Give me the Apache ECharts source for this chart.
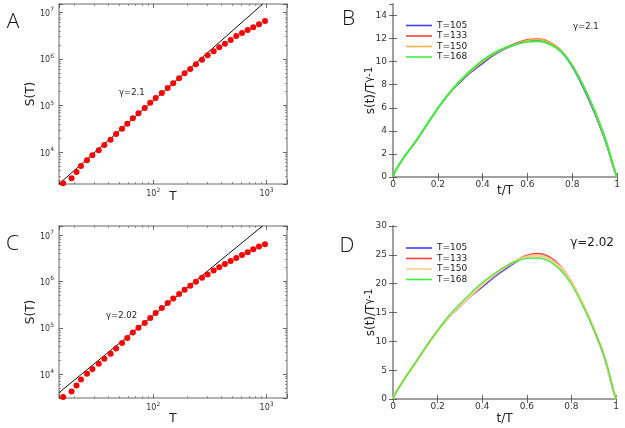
<!DOCTYPE html>
<html><head><meta charset="utf-8">
<script src="https://cdn.jsdelivr.net/npm/echarts@6/dist/echarts.min.js"></script>
<style>html,body{margin:0;padding:0;background:#fff}#c{width:625px;height:428px}</style>
</head><body><div id="c"></div>
<script>
// ---- data ----
const sizesT = [16,19,21,23,26,29,33,37,42,47,53,59,66,74,84,94,105,119,134,150,169,189,212,238,269,302,341,382,429,482,540,607,681,763,857,968];
const avalancheA = [2140,2740,3740,5030,6670,8540,10900,14200,18500,24500,31800,40700,53100,68000,88400,114800,144800,185400,237500,299300,383700,491100,607100,765800,961000,1194000,1455000,1774000,2120000,2545000,3101000,3594000,4170000,4765000,5525000,6500000];
const avalancheC = [3200,4230,5690,7660,10150,12810,16660,21340,27330,35560,47130,60370,78520,100500,126800,162500,208000,266500,341300,426600,533300,659300,803500,979400,1194000,1414000,1725000,2032000,2389000,2773000,3219000,3736000,4267000,4953000,5662000,6342000];
const fitA_T = [14.7, 924];
const fitA_S = [2065, 15070000];
const fitC_T = [14.7, 920];
const fitC_S = [3963, 15700000];

const tGrid = [0,0.01,0.05,0.1,0.15,0.2,0.25,0.3,0.35,0.4,0.45,0.5,0.55,0.6,0.65,0.7,0.75,0.8,0.85,0.9,0.95,0.99,1];
const B105 = [0,0.5,1.75,3.05,4.5,5.95,7.2,8.2,9.1,9.85,10.55,11.1,11.5,11.78,11.85,11.55,10.85,9.55,7.7,5.5,2.95,0.45,0];
const B133 = [0,0.5,1.75,3.05,4.5,5.95,7.2,8.3,9.2,10.0,10.65,11.2,11.6,11.9,11.97,11.7,11.0,9.7,7.9,5.7,3.1,0.5,0];
const B150 = [0,0.5,1.75,3.05,4.5,5.95,7.2,8.3,9.2,10.0,10.65,11.15,11.55,11.85,11.92,11.65,10.95,9.65,7.85,5.65,3.05,0.5,0];
const B168 = [0,0.5,1.75,3.05,4.5,5.95,7.25,8.35,9.3,10.1,10.75,11.2,11.5,11.72,11.76,11.5,10.9,9.65,7.9,5.75,3.2,0.55,0];
const D105 = [0,0.9,3.4,6.2,9.1,11.8,14.1,16.0,17.8,19.4,21.0,22.4,23.7,24.75,25.15,24.6,23.0,20.2,16.4,12.0,6.8,1.0,0];
const D133 = [0,0.9,3.4,6.2,9.1,11.8,14.2,16.2,18.0,19.7,21.3,22.7,23.95,24.95,25.25,24.7,23.1,20.4,16.6,12.2,7.0,1.1,0];
const D150 = [0,0.9,3.4,6.2,9.1,11.8,14.2,16.2,18.0,19.8,21.4,22.8,23.9,24.65,24.9,24.35,22.85,20.2,16.6,12.3,7.1,1.2,0];
const D168 = [0,0.9,3.4,6.3,9.2,11.9,14.4,16.5,18.4,20.2,21.6,22.9,23.85,24.4,24.45,23.9,22.4,19.9,16.3,12.1,7.1,1.3,0];

const legendNames = ['T=105','T=133','T=150','T=168'];
const lineColors = ['#3d3dff','#ff3b3b','#ffb347','#3df03d'];
const yTicksB = [0,15,2];
const yTicksD = [0,30,5];
const xDecadesLog = [1, 2, 3];          // decades spanned by the T axes
const yDecadesLog = [3, 4, 5, 6, 7];    // decades spanned by the S(T) axes

// ---- helpers ----
const chart = echarts.init(document.getElementById('c'));
const FONT = 'DejaVu Sans';
const frameColor = '#9a9a9a';
const zip = (a, b) => a.map((v, i) => [v, b[i]]);
const minorLogTicks = (decades, lo, hi) => {
  const out = [];
  decades.forEach(d => { for (let m = 2; m <= 9; m++) { const v = m * Math.pow(10, d); if (v > lo && v < hi) out.push(v); } });
  return out;
};

function logLabel(v) {
  const e = Math.log10(v), r = Math.round(e);
  return Math.abs(e - r) < 1e-6 ? '{b|10}{s|' + r + '}' : '';
}
const logRich = {
  b: {fontSize: 8, fontFamily: FONT, color: '#333', verticalAlign: 'bottom'},
  s: {fontSize: 6, fontFamily: FONT, color: '#333', verticalAlign: 'top', padding: [0, 0, 5, 0]}
};

function axisSet(kind, gridIndex, type, min, max, opts) {
  const base = {
    gridIndex, type, min, max,
    axisLine: {show: true, lineStyle: {color: frameColor, width: 1.5}},
    axisTick: {show: true, inside: true, length: 4, lineStyle: {color: '#444', width: 0.8}},
    splitLine: {show: false}
  };
  if (type === 'log') base.logBase = 10;
  if (opts.interval) base.interval = opts.interval;
  const main = Object.assign({}, base, {
    position: kind === 'x' ? 'bottom' : 'left',
    axisLabel: opts.label,
    name: opts.name, nameLocation: 'middle', nameGap: opts.nameGap,
    nameMoveOverlap: false,
    nameRotate: kind === 'y' ? 90 : 0,
    nameTextStyle: opts.nameStyle
  });
  const mirror = Object.assign({}, base, {
    position: kind === 'x' ? 'top' : 'right',
    axisLabel: {show: false}
  });
  const out = [main, mirror];
  if (opts.minor) {
    [kind === 'x' ? 'bottom' : 'left', kind === 'x' ? 'top' : 'right'].forEach(pos => {
      out.push(Object.assign({}, base, {
        position: pos,
        axisLine: {show: false},
        axisLabel: {show: false},
        axisTick: {show: true, inside: true, length: 2, customValues: opts.minor, lineStyle: {color: '#555', width: 0.6}}
      }));
    });
  }
  return out;
}

const grids = [
  {left: 59, top: 4, width: 228, height: 180},
  {left: 393, top: 4, width: 224, height: 173},
  {left: 59, top: 226, width: 228, height: 172},
  {left: 393, top: 226, width: 223, height: 173}
].map(g => Object.assign(g, {outerBoundsMode: 'none', containLabel: false}));

const nameStyle = {fontFamily: FONT, fontSize: 12, color: '#222'};
const linTick = {fontFamily: FONT, fontSize: 9, color: '#333'};
const supName = Object.assign({rich: {s: {fontFamily: FONT, fontSize: 10, color: '#222', padding: [0, 0, 3, 0]}}}, nameStyle);

const xAxes = [], yAxes = [];
const idx = {};
function add(key, xs, ys) { idx[key] = [xAxes.length, yAxes.length]; xAxes.push(...xs); yAxes.push(...ys); }
// A
add('A',
  axisSet('x', 0, 'log', 14.72, 1514, {label: {formatter: logLabel, rich: logRich, margin: 3}, name: 'T', nameGap: 7, nameStyle, minor: minorLogTicks(xDecadesLog, 14.72, 1514)}),
  axisSet('y', 0, 'log', 2065, 15070000, {label: {formatter: logLabel, rich: logRich, margin: 5}, name: 'S(T)', nameGap: 22, nameStyle, minor: minorLogTicks(yDecadesLog, 2065, 15070000)}));
// B
add('B',
  axisSet('x', 1, 'value', 0, 1, {interval: 0.2, label: Object.assign({margin: 3, formatter: v => String(+v.toFixed(1))}, linTick), name: 't/T', nameGap: 8, nameStyle}),
  axisSet('y', 1, 'value', yTicksB[0], yTicksB[1], {interval: yTicksB[2], label: Object.assign({margin: 6, showMaxLabel: false}, linTick), name: 's(t)/T{s|γ-1}', nameGap: 16, nameStyle: supName}));
// C
add('C',
  axisSet('x', 2, 'log', 14.72, 1514, {label: {formatter: logLabel, rich: logRich, margin: 3}, name: 'T', nameGap: 15, nameStyle, minor: minorLogTicks(xDecadesLog, 14.72, 1514)}),
  axisSet('y', 2, 'log', 3048, 15700000, {label: {formatter: logLabel, rich: logRich, margin: 5}, name: 'S(T)', nameGap: 22, nameStyle, minor: minorLogTicks(yDecadesLog, 3048, 15700000)}));
// D
add('D',
  axisSet('x', 3, 'value', 0, 1, {interval: 0.2, label: Object.assign({margin: 3, formatter: v => String(+v.toFixed(1))}, linTick), name: 't/T', nameGap: 14, nameStyle}),
  axisSet('y', 3, 'value', yTicksD[0], yTicksD[1], {interval: yTicksD[2], label: Object.assign({margin: 6}, linTick), name: 's(t)/T{s|γ-1}', nameGap: 16, nameStyle: supName}));

const series = [];
[['A', avalancheA, fitA_T, fitA_S], ['C', avalancheC, fitC_T, fitC_S]].forEach(([k, s, fT, fS]) => {
  const [xi, yi] = idx[k];
  series.push({type: 'line', xAxisIndex: xi, yAxisIndex: yi, data: zip(fT, fS), symbol: 'none', silent: true,
    lineStyle: {color: '#111', width: 1}, z: 2});
  series.push({type: 'scatter', xAxisIndex: xi, yAxisIndex: yi, data: zip(sizesT, s), symbolSize: 6,
    itemStyle: {color: '#ff0000', opacity: 1}, z: 3});
});
const bSets = [B105, B133, B150, B168];
const dSets = [D105, D133, D150, D168];
const bWidths = [1.3, 1.3, 1.3, 2];
const dWidths = [1.3, 1.3, 2.6, 1.3];
const dColors = ['#3d3dff', '#ff3b3b', '#ffcc8a', '#3df03d'];
bSets.forEach((d, i) => series.push({type: 'line', name: legendNames[i], xAxisIndex: idx.B[0], yAxisIndex: idx.B[1], data: zip(tGrid, d),
  smooth: 0.35, symbol: 'none', lineStyle: {color: lineColors[i], width: bWidths[i]}, itemStyle: {color: lineColors[i]}}));
dSets.forEach((d, i) => series.push({type: 'line', name: legendNames[i] + ' ', xAxisIndex: idx.D[0], yAxisIndex: idx.D[1], data: zip(tGrid, d),
  smooth: 0.35, symbol: 'none', lineStyle: {color: dColors[i], width: dWidths[i]}, itemStyle: {color: dColors[i]}}));

const legendBase = {orient: 'vertical', left: 401, itemWidth: 26, itemHeight: 1.6, itemGap: 0.5, icon: 'rect',
  textStyle: {fontFamily: FONT, fontSize: 9, color: '#222', lineHeight: 10}, formatter: n => n.trim(), selectedMode: false};
const thick = (name, h) => ({name, icon: 'path://M0,0H26V' + h + 'H0Z'});

const txt = (x, y, text, size, align) => ({type: 'text', silent: true,
  style: {x, y, text, font: size + 'px "' + FONT + '"', fill: '#222', align: align || 'left', verticalAlign: 'middle'}});
const letter = (x, y, t) => ({type: 'text', silent: true,
  style: {x, y, text: t, font: '300 21px "Open Sans", "Noto Sans"', fill: '#111', align: 'center', verticalAlign: 'middle'}});

chart.setOption({
  animation: false,
  backgroundColor: '#fff',
  grid: grids,
  xAxis: xAxes,
  yAxis: yAxes,
  legend: [
    Object.assign({}, legendBase, {top: 15.5, data: legendNames}),
    Object.assign({}, legendBase, {top: 238, data: legendNames.map(n => n + ' ')})
  ],
  series,
  graphic: [
    letter(13, 22.5, 'A'), letter(348.5, 19.5, 'B'), letter(12.5, 244, 'C'), letter(347, 246, 'D'),
    txt(119, 92.7, 'γ=2.1', 8.5), txt(106, 315.7, 'γ=2.02', 8.5),
    txt(573, 26.7, 'γ=2.1', 8.5), txt(614, 243.3, 'γ=2.02', 12, 'right')
  ]
});
</script></body></html>
